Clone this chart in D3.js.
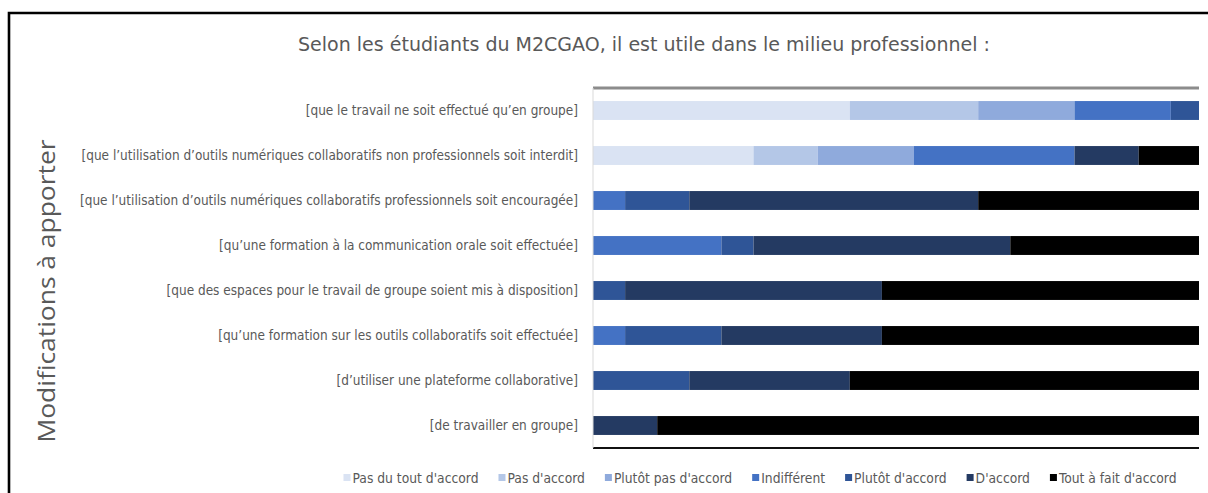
<!DOCTYPE html>
<html>
<head>
<meta charset="utf-8">
<script src="https://cdn.jsdelivr.net/npm/d3@7/dist/d3.min.js"></script>
<style>
  html, body { margin: 0; padding: 0; background: #fff; }
  svg { display: block; }
</style>
</head>
<body>
<svg id="chart" width="1208" height="493"></svg>
<script>
// ---------- data ----------
const title = "Selon les étudiants du M2CGAO, il est utile dans le milieu professionnel :";
const axisTitle = "Modifications à apporter";
const categories = [
  "[que le travail ne soit effectué qu’en groupe]",
  "[que l’utilisation d’outils numériques collaboratifs non professionnels soit interdit]",
  "[que l’utilisation d’outils numériques collaboratifs professionnels soit encouragée]",
  "[qu’une formation à la communication orale soit effectuée]",
  "[que des espaces pour le travail de groupe soient mis à disposition]",
  "[qu’une formation sur les outils collaboratifs soit effectuée]",
  "[d’utiliser une plateforme collaborative]",
  "[de travailler en groupe]"
];
const seriesNames = ["Pas du tout d'accord", "Pas d'accord", "Plutôt pas d'accord", "Indifférent", "Plutôt d'accord", "D'accord", "Tout à fait d'accord"];
const pasDuToutDaccord   = [8, 5, 0, 0, 0, 0, 0, 0];
const pasDaccord         = [4, 2, 0, 0, 0, 0, 0, 0];
const plutotPasDaccord   = [3, 3, 0, 0, 0, 0, 0, 0];
const indifferent        = [3, 5, 1, 4, 0, 1, 0, 0];
const plutotDaccord      = [1, 0, 2, 1, 1, 3, 3, 0];
const daccord            = [0, 2, 9, 8, 8, 5, 5, 2];
const toutAFaitDaccord   = [0, 2, 7, 6, 10, 10, 11, 17];
const seriesColors = ["#DAE3F3", "#B4C7E7", "#8FAADC", "#4472C4", "#2F5597", "#243A62", "#000000"];

// ---------- build table ----------
const seriesValues = [pasDuToutDaccord, pasDaccord, plutotPasDaccord, indifferent, plutotDaccord, daccord, toutAFaitDaccord];
const rows = categories.map((c, i) => {
  const r = { cat: c };
  seriesNames.forEach((s, j) => r[s] = seriesValues[j][i]);
  return r;
});
const stacked = d3.stack().keys(seriesNames)(rows);
const total = d3.max(rows, r => d3.sum(seriesNames, s => r[s]));

// ---------- layout ----------
const svg = d3.select("#chart");
const W = 1208, H = 493;
const plot = { left: 593, right: 1199, top: 88, bottom: 448 };
const unitPx = 32.1;

const x = d3.scaleLinear().domain([0, total]).range([plot.left, plot.left + total * unitPx]);
const y = d3.scaleBand().domain(categories).range([plot.top, plot.bottom]).paddingInner(0.58).paddingOuter(0.29);

// outer chart border (cropped: only top and left visible)
svg.append("path")
  .attr("d", `M9,${H} L9,13 L${W},13`)
  .attr("fill", "none").attr("stroke", "#000").attr("stroke-width", 2.6);

// clip
svg.append("defs").append("clipPath").attr("id", "plotclip")
  .append("rect").attr("x", plot.left - 2).attr("y", plot.top - 5)
  .attr("width", plot.right - plot.left + 2).attr("height", plot.bottom - plot.top + 10);

const g = svg.append("g").attr("clip-path", "url(#plotclip)");

// bars
g.selectAll("g.series").data(stacked).join("g")
  .attr("class", "series")
  .attr("fill", (d, i) => seriesColors[i])
  .selectAll("rect").data(d => d).join("rect")
  .attr("x", d => x(d[0]))
  .attr("y", d => y(d.data.cat))
  .attr("width", d => x(d[1]) - x(d[0]))
  .attr("height", y.bandwidth());

// left category axis line
svg.append("line")
  .attr("x1", plot.left).attr("x2", plot.left)
  .attr("y1", plot.top).attr("y2", plot.bottom)
  .attr("stroke", "#D9D9D9").attr("stroke-width", 1);

// top axis line (gray, thick)
g.append("line")
  .attr("x1", plot.left).attr("x2", x(total))
  .attr("y1", plot.top).attr("y2", plot.top)
  .attr("stroke", "#8C8C8C").attr("stroke-width", 3);
// bottom line (black)
g.append("line")
  .attr("x1", plot.left).attr("x2", x(total))
  .attr("y1", plot.bottom).attr("y2", plot.bottom)
  .attr("stroke", "#111").attr("stroke-width", 2);

const narrowFont = "'Liberation Sans Narrow', 'Arial Narrow', 'DejaVu Sans Condensed', sans-serif";
const textColor = "#595959";

// category labels
const labels = svg.append("g").selectAll("text").data(categories).join("text")
  .attr("x", 578)
  .attr("y", d => y(d) + y.bandwidth() / 2)
  .attr("dy", "0.35em")
  .attr("text-anchor", "end")
  .attr("font-family", narrowFont)
  .attr("font-size", 14)
  .attr("fill", textColor)
  .text(d => d);
// uniform horizontal fit based on the longest label (reference width ~498px)
let maxW = 0;
labels.each(function() { maxW = Math.max(maxW, this.getComputedTextLength()); });
const kLab = 498 / maxW;
labels.each(function() {
  const w = this.getComputedTextLength();
  d3.select(this).attr("textLength", w * kLab).attr("lengthAdjust", "spacingAndGlyphs");
});

// title
const t = svg.append("text")
  .attr("x", 644).attr("y", 51)
  .attr("text-anchor", "middle")
  .attr("font-family", narrowFont)
  .attr("font-size", 19)
  .attr("fill", textColor)
  .text(title);
t.attr("textLength", 692).attr("lengthAdjust", "spacingAndGlyphs");

// axis title
svg.append("text")
  .attr("transform", "translate(55,291) rotate(-90)")
  .attr("text-anchor", "middle")
  .attr("font-family", "'Open Sans', sans-serif")
  .attr("font-size", 23)
  .attr("fill", textColor)
  .attr("textLength", 303).attr("lengthAdjust", "spacingAndGlyphs")
  .text(axisTitle);

// legend
const legend = svg.append("g");
const items = legend.selectAll("g").data(seriesNames).join("g");
items.append("rect").attr("width", 7).attr("height", 7).attr("y", -4)
  .attr("fill", (d, i) => seriesColors[i]);
const ltexts = items.append("text")
  .attr("x", 9).attr("dy", "0.35em")
  .attr("font-family", narrowFont).attr("font-size", 14)
  .attr("fill", textColor)
  .text(d => d);
let widths = [];
ltexts.each(function() { widths.push(this.getComputedTextLength()); });
// reference: "Pas du tout d'accord" ~126px
const kLeg = 126 / widths[0];
ltexts.each(function(d, i) {
  d3.select(this).attr("textLength", widths[i] * kLeg).attr("lengthAdjust", "spacingAndGlyphs");
});
let cx = 0;
const offsets = widths.map(w => { const o = cx; cx += 9 + w * kLeg + 20; return o; });
const legW = cx - 20;
const legX = 760 - legW / 2;
items.attr("transform", (d, i) => `translate(${legX + offsets[i]},478)`);
</script>
</body>
</html>
